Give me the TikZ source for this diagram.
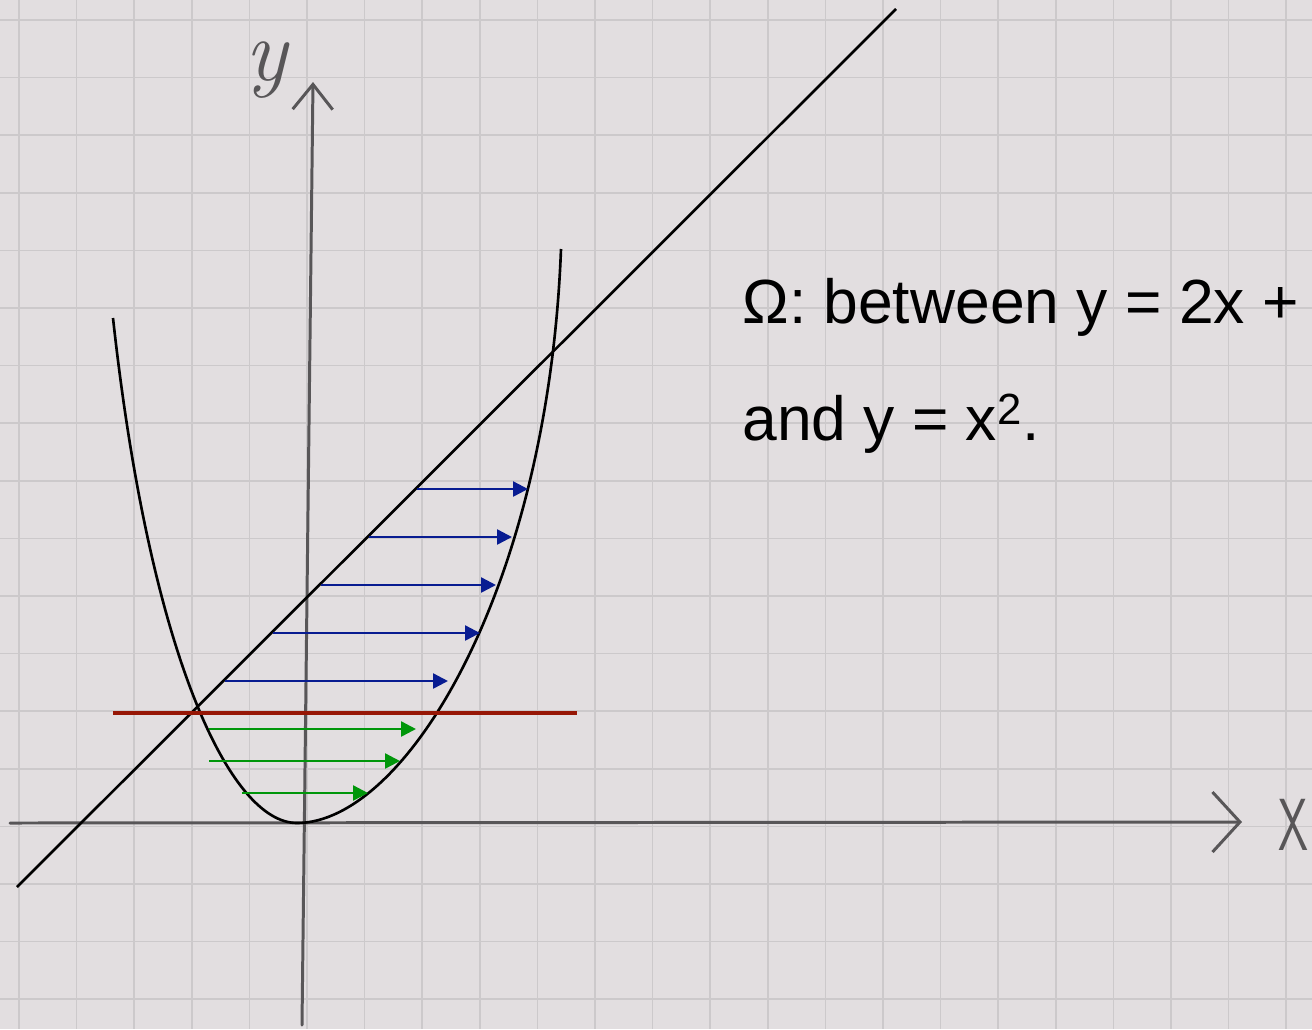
\documentclass[tikz,border=0pt]{standalone}
\usepackage{fontspec}
\usetikzlibrary{arrows.meta}
\newfontfamily\slidefont{Liberation Sans}
\definecolor{paper}{RGB}{226,222,224}
\definecolor{gridgray}{RGB}{204,201,203}
\definecolor{pencil}{RGB}{88,86,88}
\definecolor{arrowblue}{RGB}{8,28,145}
\definecolor{arrowgreen}{RGB}{0,150,10}
\definecolor{cutred}{RGB}{150,22,5}
\tikzstyle{gridline}  = [draw=gridgray, line width=1pt]
\tikzstyle{axis}      = [draw=pencil, line width=1.7pt, line cap=round]
\tikzstyle{curve}     = [draw=black, line width=1.5pt]
\tikzstyle{bluearrow} = [draw=arrowblue, line width=1.4pt, -{Triangle[length=0.3cm,width=0.3cm]}, arrowblue]
\tikzstyle{greenarrow}= [draw=arrowgreen, line width=1.4pt, -{Triangle[length=0.3cm,width=0.3cm]}, arrowgreen]
\tikzstyle{cutline}   = [draw=cutred, line width=2.8pt]
\tikzstyle{handlabel} = [pencil, inner sep=0pt]
\tikzstyle{slidetext} = [anchor=base west, inner sep=0pt, font=\slidefont\fontsize{35.5}{42}\selectfont]

\begin{document}
\begin{tikzpicture}[x=0.02cm, y=-0.02cm]

\useasboundingbox (0,0) rectangle (1312,1029);
\clip (0,0) rectangle (1312,1029);

% squared paper
\fill[paper] (0,0) rectangle (1312,1029);
\foreach \i in {0,...,22}
  \draw[gridline] ({19+57.6*\i},0) -- ({19+57.6*\i},1029);
\foreach \j in {0,...,17}
  \draw[gridline] (0,{20+57.6*\j}) -- (1312,{20+57.6*\j});

% axes
\coordinate (XO) at (10,823);
\coordinate (XE) at (1242,822);
\coordinate (YO) at (302,1025);
\coordinate (YE) at (313,82);

\draw[axis, -{Straight Barb[length=0.55cm,width=1.2cm]}] (XO) -- (XE);
\draw[axis, -{Straight Barb[length=0.5cm,width=0.8cm]}] (YO) -- (YE);

\node[handlabel, xscale=0.65, font=\sffamily\fontsize{42}{42}\selectfont] (xlab) at (1293,825) {X};
\node[handlabel, font=\itshape\fontsize{50}{50}\selectfont] (ylab) at (266,70) {y};

% y = 2x + 3 and y = x^2
\coordinate (LA) at (17,887);
\coordinate (LB) at (896,9);
\draw[curve] (LA) -- (LB);

\coordinate (PL) at (113,318);
\coordinate (PV) at (297,823);
\coordinate (PR) at (561,249);
\draw[curve] (PL) .. controls (150,655) and (230,823) .. (PV)
                  .. controls (405,823) and (548,590) .. (PR);

% cut at y = 1
\coordinate (RL) at (113,713);
\coordinate (RR) at (577,713);
\draw[cutline] (RL) -- (RR);

% slices above the cut
\coordinate (BL1) at (417,489);
\coordinate (BR1) at (528,489);
\coordinate (BL2) at (369,537);
\coordinate (BR2) at (512,537);
\coordinate (BL3) at (321,585);
\coordinate (BR3) at (496,585);
\coordinate (BL4) at (273,633);
\coordinate (BR4) at (480,633);
\coordinate (BL5) at (225,681);
\coordinate (BR5) at (448,681);

\draw[bluearrow] (BL1) -- (BR1);
\draw[bluearrow] (BL2) -- (BR2);
\draw[bluearrow] (BL3) -- (BR3);
\draw[bluearrow] (BL4) -- (BR4);
\draw[bluearrow] (BL5) -- (BR5);

% slices below the cut
\coordinate (GL1) at (209,729);
\coordinate (GR1) at (416,729);
\coordinate (GL2) at (209,761);
\coordinate (GR2) at (400,761);
\coordinate (GL3) at (242,793);
\coordinate (GR3) at (368,793);

\draw[greenarrow] (GL1) -- (GR1);
\draw[greenarrow] (GL2) -- (GR2);
\draw[greenarrow] (GL3) -- (GR3);

\node[slidetext] (line1) at (742,323) {Ω: between y = 2x +};
\node[slidetext] (line2) at (742,440) {and y = x\textsuperscript{2}.};

\end{tikzpicture}
\end{document}
